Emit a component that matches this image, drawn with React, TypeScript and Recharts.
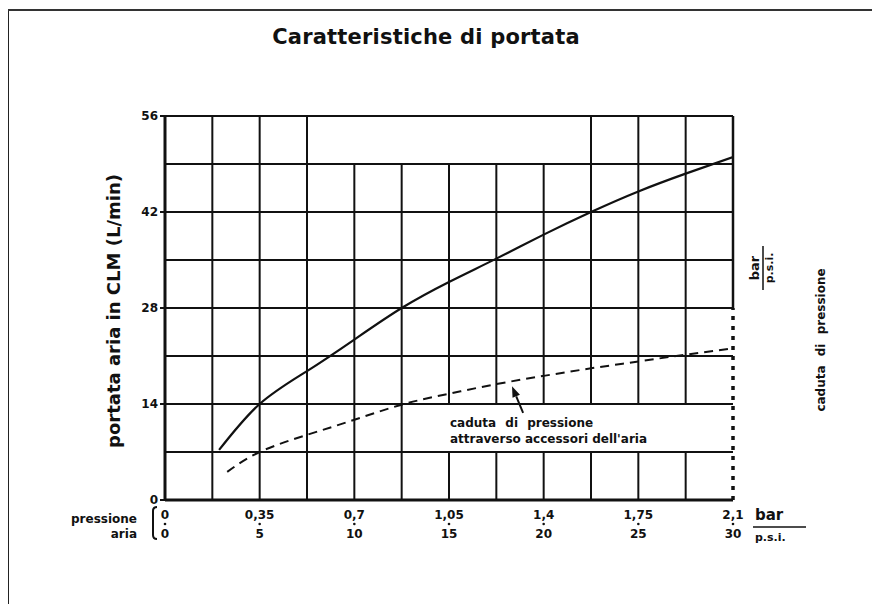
import React from "react";
import {
  LineChart,
  Line,
  XAxis,
  YAxis,
  CartesianGrid,
  ReferenceLine,
  ReferenceArea,
} from "recharts";

const FONT = '"DejaVu Sans", "Liberation Sans", sans-serif';
const INK = "#111";

// portata aria (curva piena)
const flowBar = [0.2, 0.35, 0.525, 0.7, 0.875, 1.05, 1.225, 1.4, 1.575, 1.75, 1.925, 2.1];
const flowClm = [7.3, 14.0, 18.8, 23.4, 28.0, 31.8, 35.2, 38.7, 42.0, 45.0, 47.6, 50.0];

// caduta di pressione attraverso accessori (tratteggiata)
const dropBar = [0.23, 0.35, 0.525, 0.7, 0.875, 1.05, 1.225, 1.4, 1.575, 1.75, 1.925, 2.1];
const dropClm = [4.1, 7.0, 9.5, 11.7, 13.9, 15.5, 16.9, 18.1, 19.2, 20.2, 21.2, 22.1];

// assi
const gridBar = [0, 0.175, 0.35, 0.525, 0.7, 0.875, 1.05, 1.225, 1.4, 1.575, 1.75, 1.925, 2.1];
const majorBar = [0, 0.35, 0.7, 1.05, 1.4, 1.75, 2.1];
const barLabels = ["0", "0,35", "0,7", "1,05", "1,4", "1,75", "2,1"];
const psiLabels = ["0", "5", "10", "15", "20", "25", "30"];
const gridClm = [0, 7, 14, 21, 28, 35, 42, 49, 56];
const clmLabels = [0, 14, 28, 42, 56];
const dropTicks = [14, 28];
const dropLabels = ["0,3-5", "0,7-10"];

// zone dove la griglia verticale è interrotta
const gridGaps = [
  { x1: 0.54, x2: 1.56, y1: 49, y2: 56 },
  { x1: 0.95, x2: 2.07, y1: 7, y2: 14 },
];

const flowData = flowBar.map((bar, i) => ({ bar, clm: flowClm[i] }));
const dropData = dropBar.map((bar, i) => ({ bar, clm: dropClm[i] }));

// segmenti verticali della griglia, saltando le zone vuote
const vSegments = gridBar
  .filter((g) => g > 0 && g < 2.1)
  .flatMap((g) => {
    let segs: number[][] = [[0, 56]];
    gridGaps.forEach((gap) => {
      if (g > gap.x1 && g < gap.x2) {
        segs = segs.flatMap(([a, b]) =>
          gap.y2 <= a || gap.y1 >= b
            ? [[a, b]]
            : [[a, gap.y1], [gap.y2, b]].filter(([p, q]) => q > p)
        );
      }
    });
    return segs.map(([a, b]) => ({ x: g, a, b }));
  });

const txt = { fontFamily: FONT, fontWeight: 700, fill: INK } as const;

const BarTick = (props: any) => {
  const { x, y, payload } = props;
  const i = majorBar.findIndex((v) => Math.abs(v - payload.value) < 1e-6);
  if (i < 0) return <g />;
  return (
    <g>
      <text x={x} y={y + 19} textAnchor="middle" fontSize={12} {...txt}>
        {barLabels[i]}
      </text>
      <circle cx={x} cy={y + 24} r={1.3} fill={INK} />
      <text x={x} y={y + 38} textAnchor="middle" fontSize={12} {...txt}>
        {psiLabels[i]}
      </text>
    </g>
  );
};

const ClmTick = (props: any) => {
  const { x, y, payload } = props;
  if (!clmLabels.includes(payload.value)) return <g />;
  return (
    <g>
      <line x1={x - 5} x2={x} y1={y} y2={y} stroke={INK} strokeWidth={2} />
      <text x={x - 7} y={y + 4} textAnchor="end" fontSize={12} {...txt}>
        {payload.value}
      </text>
    </g>
  );
};

const DropTick = (props: any) => {
  const { x, y, payload } = props;
  const i = dropTicks.indexOf(payload.value);
  if (i < 0) return <g />;
  return (
    <g>
      <line x1={x - 3} x2={x + 4} y1={y} y2={y} stroke={INK} strokeWidth={2} />
      <text x={x + 9} y={y + 4} textAnchor="start" fontSize={12} {...txt}>
        {dropLabels[i]}
      </text>
    </g>
  );
};

const YTitle = (props: any) => {
  const { x, y, height } = props.viewBox;
  const cx = x + 20;
  const cy = y + height / 2 + 3;
  return (
    <text
      x={cx}
      y={cy}
      transform={`rotate(-90 ${cx} ${cy})`}
      textAnchor="middle"
      fontSize={18}
      {...txt}
    >
      portata aria in CLM (L/min)
    </text>
  );
};

const RightTitle = (props: any) => {
  const { x, y } = props.viewBox;
  const fx = x + 30;
  const fy = y + 152;
  const cx = x + 92;
  const cy = y + 224;
  return (
    <g>
      <g transform={`translate(${fx} ${fy}) rotate(-90)`}>
        <text x={0} y={-4} textAnchor="middle" fontSize={13} {...txt}>
          bar
        </text>
        <line x1={-22} x2={22} y1={0} y2={0} stroke={INK} strokeWidth={1.5} />
        <text x={0} y={10} textAnchor="middle" fontSize={11} {...txt}>
          p.s.i.
        </text>
      </g>
      <text
        x={cx}
        y={cy}
        transform={`rotate(-90 ${cx} ${cy})`}
        textAnchor="middle"
        fontSize={12}
        wordSpacing={5}
        {...txt}
      >
        caduta di pressione
      </text>
    </g>
  );
};

const XTitle = (props: any) => {
  const { x, y, width } = props.viewBox;
  const r = x + width;
  return (
    <g>
      <text x={x - 28} y={y + 23} textAnchor="end" fontSize={12} {...txt}>
        pressione
      </text>
      <text x={x - 28} y={y + 38} textAnchor="end" fontSize={12} {...txt}>
        aria
      </text>
      <path
        d={`M${x - 8} ${y + 7} Q${x - 12} ${y + 7} ${x - 12} ${y + 11} L${x - 12} ${y + 35} Q${x - 12} ${y + 39} ${x - 8} ${y + 39}`}
        fill="none"
        stroke={INK}
        strokeWidth={2}
      />
      <text x={r + 22} y={y + 20} textAnchor="start" fontSize={15} {...txt}>
        bar
      </text>
      <line x1={r + 20} x2={r + 73} y1={y + 27} y2={y + 27} stroke={INK} strokeWidth={1.5} />
      <text x={r + 22} y={y + 41} textAnchor="start" fontSize={11} {...txt}>
        p.s.i.
      </text>
    </g>
  );
};

const NoteLabel = (props: any) => {
  const { x, y } = props.viewBox;
  return (
    <g>
      <text x={x + 28} y={y + 22} fontSize={12} wordSpacing={5} {...txt}>
        caduta di pressione
      </text>
      <text x={x + 28} y={y + 38} fontSize={12} {...txt}>
        attraverso accessori dell'aria
      </text>
    </g>
  );
};

const Arrow = (props: any) => {
  const { x1, y1, x2, y2 } = props;
  const ang = Math.atan2(y2 - y1, x2 - x1);
  const len = 11;
  const w = 4;
  const bx = x2 - len * Math.cos(ang);
  const by = y2 - len * Math.sin(ang);
  const px = -Math.sin(ang) * w;
  const py = Math.cos(ang) * w;
  return (
    <g>
      <line x1={x1} y1={y1} x2={bx} y2={by} stroke={INK} strokeWidth={2} />
      <polygon
        points={`${x2},${y2} ${bx + px},${by + py} ${bx - px},${by - py}`}
        fill={INK}
      />
    </g>
  );
};

export default function App() {
  return (
    <div
      style={{
        position: "relative",
        width: 880,
        height: 604,
        margin: "-8px 0 0 -8px",
        background: "#fff",
        overflow: "hidden",
      }}
    >
      <div
        style={{
          position: "absolute",
          left: 0,
          width: 852,
          top: 27,
          textAlign: "center",
          fontFamily: FONT,
          fontWeight: 700,
          fontSize: 21,
          lineHeight: "21px",
          letterSpacing: 0.2,
          color: INK,
        }}
      >
        Caratteristiche di portata
      </div>
      <LineChart
        width={880}
        height={604}
        margin={{ top: 116, right: 87, bottom: 0, left: 100 }}
      >
        <CartesianGrid
          vertical={false}
          horizontal
          stroke={INK}
          strokeWidth={2}
          strokeOpacity={1}
        />
        <XAxis
          dataKey="bar"
          type="number"
          domain={[0, 2.1]}
          ticks={gridBar}
          interval={0}
          height={104}
          axisLine={false}
          tickLine={false}
          tickSize={0}
          tickMargin={0}
          tick={<BarTick />}
          allowDataOverflow
          label={{ content: <XTitle /> }}
        />
        <YAxis
          type="number"
          domain={[0, 56]}
          ticks={gridClm}
          interval={0}
          width={65}
          axisLine={false}
          tickLine={false}
          tickSize={0}
          tickMargin={0}
          tick={<ClmTick />}
          allowDataOverflow
          label={{ content: <YTitle /> }}
        />
        <YAxis
          yAxisId="r"
          orientation="right"
          type="number"
          domain={[0, 56]}
          ticks={gridClm}
          interval={0}
          width={60}
          axisLine={false}
          tickLine={false}
          tickSize={0}
          tickMargin={0}
          tick={<DropTick />}
          label={{ content: <RightTitle /> }}
        />
        <ReferenceArea
          x1={gridGaps[1].x1}
          x2={gridGaps[1].x2}
          y1={gridGaps[1].y1 + 0.2}
          y2={gridGaps[1].y2 - 0.2}
          fill="#fff"
          fillOpacity={1}
          stroke="none"
          label={{ content: <NoteLabel /> }}
        />
        {vSegments.map((s, i) => (
          <ReferenceLine
            key={`v-${i}`}
            segment={[
              { x: s.x, y: s.a },
              { x: s.x, y: s.b },
            ]}
            stroke={INK}
            strokeWidth={2}
          />
        ))}
        <ReferenceLine x={0} stroke={INK} strokeWidth={3} />
        <ReferenceLine y={0} stroke={INK} strokeWidth={3} />
        <ReferenceLine
          segment={[
            { x: 2.1, y: 28 },
            { x: 2.1, y: 56 },
          ]}
          stroke={INK}
          strokeWidth={2.5}
        />
        <ReferenceLine
          segment={[
            { x: 2.1, y: 0 },
            { x: 2.1, y: 28 },
          ]}
          stroke={INK}
          strokeWidth={3.5}
          strokeDasharray="4 6"
        />
        <ReferenceLine
          segment={[
            { x: 1.324, y: 12.7 },
            { x: 1.283, y: 16.6 },
          ]}
          shape={Arrow}
        />
        <Line
          data={flowData}
          dataKey="clm"
          type="natural"
          stroke={INK}
          strokeWidth={2.2}
          dot={false}
          activeDot={false}
          isAnimationActive={false}
        />
        <Line
          data={dropData}
          dataKey="clm"
          type="natural"
          stroke={INK}
          strokeWidth={2}
          strokeDasharray="9 6"
          dot={false}
          activeDot={false}
          isAnimationActive={false}
        />
      </LineChart>
      <div
        style={{
          position: "absolute",
          left: 6,
          top: 9,
          width: 3,
          height: 595,
          background: "#222",
          zIndex: 2,
        }}
      />
      <div
        style={{
          position: "absolute",
          left: 6,
          top: 9,
          width: 874,
          height: 2,
          background: "#333",
          zIndex: 2,
        }}
      />
    </div>
  );
}
